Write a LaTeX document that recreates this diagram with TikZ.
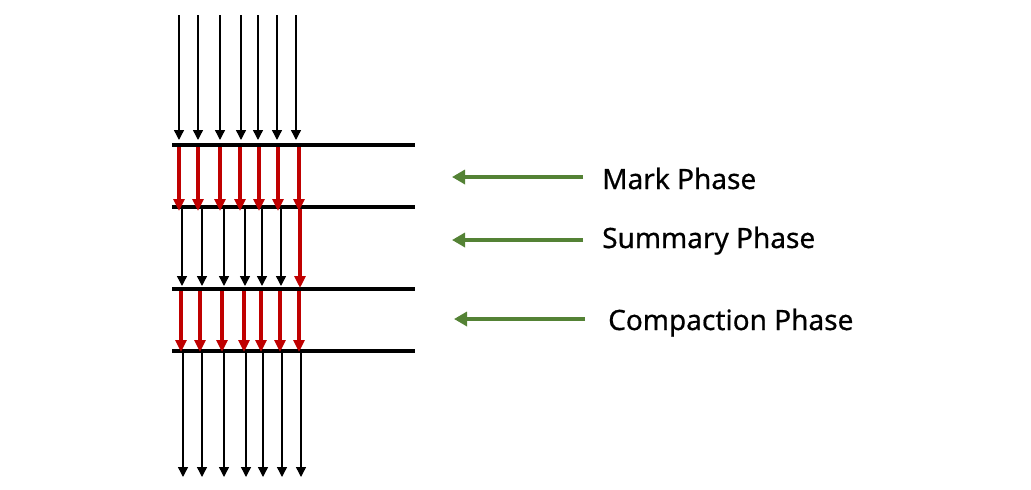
\documentclass[tikz,border=0pt]{standalone}
\usepackage{fontspec}
\setmainfont[FakeBold=0.6]{Noto Sans}
\usetikzlibrary{arrows.meta}
\definecolor{arrowred}{RGB}{192,0,0}
\definecolor{phasegreen}{RGB}{84,130,53}
\begin{document}
\begin{tikzpicture}[x=1pt,y=-1pt,
  bar/.style={line width=4pt},
  blackarrow/.style={line width=1.4pt,-{Triangle[width=10pt,length=10pt]}},
  redarrow/.style={arrowred,line width=3.2pt,-{Triangle[width=11pt,length=12pt]}},
  greenarrow/.style={phasegreen,line width=4pt,-{Triangle[width=14pt,length=13pt]}},
  phaselabel/.style={anchor=base west,inner sep=0pt,font=\fontsize{28}{32}\selectfont}
]
\useasboundingbox (0,0) rectangle (1031,490);
% bars
\foreach \y [count=\i] in {145,207,289,351}{
  \coordinate (barL\i) at (172,\y);
  \coordinate (barR\i) at (415,\y);
  \draw[bar] (barL\i) -- (barR\i);
}
% top incoming arrows
\foreach \x [count=\i] in {179,198,220,241,258,277,296}{
  \coordinate (inS\i) at (\x,15);
  \coordinate (inE\i) at (\x,140);
  \draw[blackarrow] (inS\i) -- (inE\i);
}
% mark phase red arrows
\foreach \x [count=\i] in {179,198,220,240,259,278,299}{
  \coordinate (mkS\i) at (\x,147);
  \coordinate (mkE\i) at (\x,211);
  \draw[redarrow] (mkS\i) -- (mkE\i);
}
% summary phase black arrows
\foreach \x [count=\i] in {182,202,224,245,262,281}{
  \coordinate (smS\i) at (\x,209);
  \coordinate (smE\i) at (\x,286);
  \draw[blackarrow] (smS\i) -- (smE\i);
}
\coordinate (smS7) at (300,209);
\coordinate (smE7) at (300,288);
\draw[redarrow] (smS7) -- (smE7);
% compaction phase red arrows
\foreach \x [count=\i] in {181,200,222,244,261,280,299}{
  \coordinate (cpS\i) at (\x,291);
  \coordinate (cpE\i) at (\x,352);
  \draw[redarrow] (cpS\i) -- (cpE\i);
}
% bottom outgoing arrows
\foreach \x [count=\i] in {183,202,224,246,263,282,301}{
  \coordinate (outS\i) at (\x,353);
  \coordinate (outE\i) at (\x,477);
  \draw[blackarrow] (outS\i) -- (outE\i);
}
% labels
\node[phaselabel] (mark) at (602,189) {Mark Phase};
\node[phaselabel] (summary) at (602,248) {Summary Phase};
\node[phaselabel] (compaction) at (608,330) {Compaction Phase};
% green arrows
\coordinate (gM1) at (583,177); \coordinate (gM2) at (452,177);
\coordinate (gS1) at (583,240); \coordinate (gS2) at (452,240);
\coordinate (gC1) at (585,319); \coordinate (gC2) at (454,319);
\draw[greenarrow] (gM1) -- (gM2);
\draw[greenarrow] (gS1) -- (gS2);
\draw[greenarrow] (gC1) -- (gC2);
\end{tikzpicture}
\end{document}
